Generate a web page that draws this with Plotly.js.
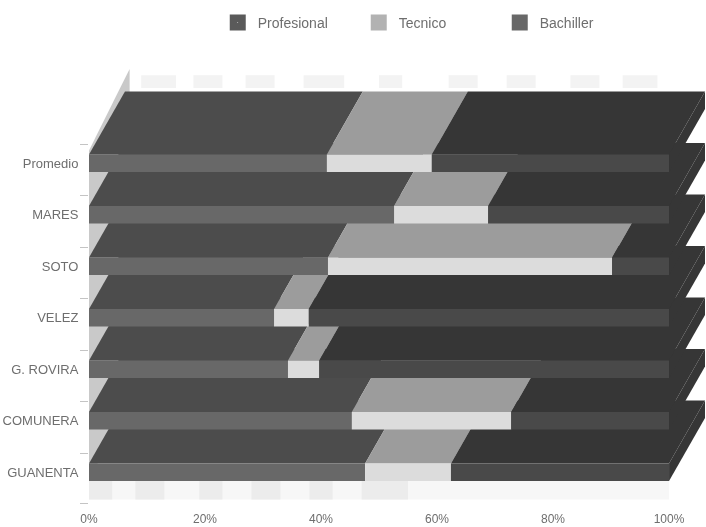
<!DOCTYPE html>
<html>
<head>
<meta charset="utf-8">
<script src="https://cdn.plot.ly/plotly-3.0.1.min.js"></script>
<style>
html,body{margin:0;padding:0;background:#fff;}
#chart{width:706px;height:527px;filter:blur(0.45px);}
</style>
</head>
<body>
<div id="chart"></div>
<script>
// Rows listed from the front of the chart (bottom) to the back (top)
const categories = ["GUANENTA","COMUNERA","G. ROVIRA","VELEZ","SOTO","MARES","Promedio"];
const profesional = [47.6,45.3,34.3,31.9,41.2,52.6,41.0];
const tecnico     = [14.8,27.5,5.4,6.0,49.0,16.2,18.1];
const bachiller   = [37.6,27.2,60.3,62.1,9.8,31.2,40.9];
const seriesNames = ["Profesional","Tecnico","Bachiller"];
const xTicks = [0,20,40,60,80,100];
const xTickText = ["0%","20%","40%","60%","80%","100%"];

// Faint scan smudges on the floor and back wall: [from %, to %]
const floorPatches = [[0,4],[8,13],[19,23],[28,33],[38,42],[47,55]];
const backPatches = [[9,15],[18,23],[27,32],[37,44],[50,54],[62,67],[72,77],[83,88],[92,98]];

const topColors   = ["#4c4c4c","#9c9c9c","#363636"];
const frontColors = ["#686868","#dcdcdc","#494949"];
const sideColor = "#363636";

const faceHeight = 0.34;   // front face height, in rows
const depthRise = 1.223;   // rows climbed by the top face
const depthShift = 6.2;    // percent shifted by the top face

function poly(xs, ys, color) {
  return {type:"scatter", mode:"none", x:xs, y:ys, fill:"toself", fillcolor:color,
          showlegend:false, hoverinfo:"skip"};
}

const traces = [];
// Left wall
traces.push(poly([0,0,7,7],[0,6.42,8.0,1.6],"#c9c9c9"));

// Rows from front to back: back rows overlap the top faces of those in front
categories.forEach((c,i)=>{
  const vals = [profesional[i],tecnico[i],bachiller[i]];
  const top = i + faceHeight;
  let start = 0;
  vals.forEach((v,k)=>{
    const end = start + v;
    traces.push(poly(
      [start,end,end+depthShift,start+depthShift],
      [top,top,top+depthRise,top+depthRise], topColors[k]));
    traces.push(poly([start,end,end,start],[i,i,top,top], frontColors[k]));
    start = end;
  });
  traces.push(poly(
    [start,start+depthShift,start+depthShift,start],
    [i,i+depthRise,top+depthRise,top], sideColor));
});

// Legend entries
const legendStyles = [
  {symbol:"square-dot", color:"#5a5a5a", line:{color:"#5a5a5a",width:0}},
  {symbol:"square", color:"#b2b2b2", line:{color:"#b2b2b2",width:0}},
  {symbol:"square", color:"#686868", line:{color:"#686868",width:0}}
];
seriesNames.forEach((n,k)=>{
  traces.push({type:"scatter", mode:"markers", name:n, x:[null], y:[null],
    marker:Object.assign({size:16}, legendStyles[k]), hoverinfo:"skip"});
});

// Second y axis only carries the short tick marks between the labels
traces.push({type:"scatter", mode:"none", x:[null], y:[null], yaxis:"y2",
             showlegend:false, hoverinfo:"skip"});

const yRange = [-0.466, 9.243];
const shapes = [];
shapes.push({type:"rect",layer:"below",xref:"x",yref:"y",x0:0,x1:100,y0:-0.36,y1:0,
  fillcolor:"#f7f7f7",line:{width:0}});
floorPatches.forEach(p=>shapes.push({type:"rect",layer:"below",xref:"x",yref:"y",
  x0:p[0],x1:p[1],y0:-0.36,y1:0,fillcolor:"#ececec",line:{width:0}}));
backPatches.forEach(p=>shapes.push({type:"rect",layer:"below",xref:"x",yref:"y",
  x0:p[0],x1:p[1],y0:7.63,y1:7.88,fillcolor:"#f3f3f3",line:{width:0}}));

const textFont = {family:"'Liberation Sans',sans-serif",color:"#6e6e6e"};
const layout = {
  width:706, height:527,
  margin:{l:89,r:1,t:5,b:22,pad:0},
  paper_bgcolor:"#fff", plot_bgcolor:"#fff",
  showlegend:true,
  legend:{orientation:"h", x:0.209, xanchor:"left", xref:"paper",
          y:0.964, yanchor:"middle", yref:"paper",
          entrywidthmode:"pixels", entrywidth:96, itemsizing:"trace",
          font:Object.assign({},textFont,{size:14}), bgcolor:"rgba(0,0,0,0)",
          itemwidth:30, traceorder:"normal"},
  xaxis:{range:[0,106.2], tickvals:xTicks, ticktext:xTickText, showgrid:false,
         zeroline:false, showline:false, ticks:"", fixedrange:true, ticklabelstandoff:5,
         tickfont:Object.assign({},textFont,{size:12})},
  yaxis:{range:yRange, tickvals:categories.map((c,i)=>i+faceHeight/2), ticktext:categories,
         showgrid:false, zeroline:false, showline:false, ticks:"outside", ticklen:7,
         tickcolor:"rgba(0,0,0,0)", fixedrange:true,
         tickfont:Object.assign({},textFont,{size:13})},
  yaxis2:{range:yRange, overlaying:"y", anchor:"x", side:"left",
          tickvals:[0.54,1.54,2.54,3.54,4.54,5.54,6.54,-0.43], showticklabels:false,
          ticks:"outside", ticklen:8, tickcolor:"#c4c4c4", showgrid:false, zeroline:false,
          showline:false, fixedrange:true},
  shapes:shapes
};
Plotly.newPlot("chart", traces, layout, {displayModeBar:false, staticPlot:true});
</script>
</body>
</html>
